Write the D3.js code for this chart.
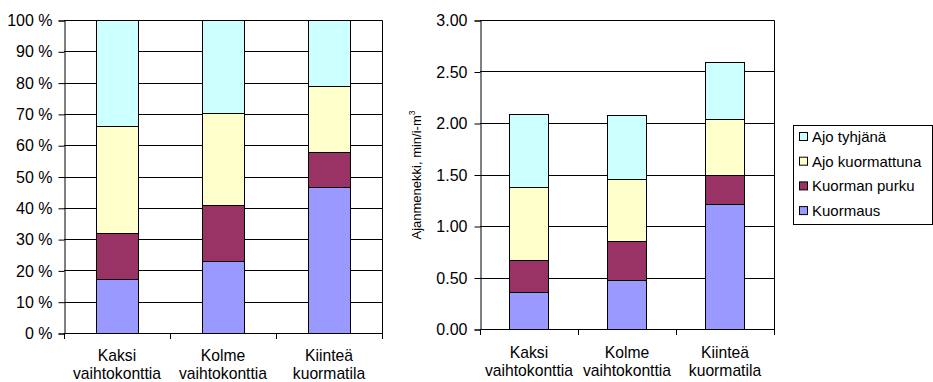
<!DOCTYPE html>
<html>
<head>
<meta charset="utf-8">
<script src="https://cdn.jsdelivr.net/npm/d3@7/dist/d3.min.js"></script>
<style>
  html, body { margin: 0; padding: 0; background: #fff; }
  svg { display: block; font-family: "Liberation Sans", Arial, sans-serif; }
</style>
</head>
<body>
<svg id="chart" width="933" height="382"></svg>
<script>
// Työvaiheiden ajanmenekki (min/i-m³) kuormatyypeittäin
const categories = [["Kaksi", "vaihtokonttia"], ["Kolme", "vaihtokonttia"], ["Kiinteä", "kuormatila"]];
const seriesNames = ["Kuormaus", "Kuorman purku", "Ajo kuormattuna", "Ajo tyhjänä"];
const seriesColors = ["#9999FF", "#993366", "#FFFFCC", "#CCFFFF"];
const kuormaus       = [0.36, 0.48, 1.21];
const kuormanPurku   = [0.31, 0.37, 0.29];
const ajoKuormattuna = [0.71, 0.61, 0.54];
const ajoTyhjana     = [0.71, 0.62, 0.55];
const percentTicks = [0, 0.1, 0.2, 0.3, 0.4, 0.5, 0.6, 0.7, 0.8, 0.9, 1.0];
const timeTicks = [0, 0.5, 1.0, 1.5, 2.0, 2.5, 3.0];
const yTitle = "Ajanmenekki, min/i-m";

const seriesValues = [kuormaus, kuormanPurku, ajoKuormattuna, ajoTyhjana];
const rows = categories.map((c, i) => {
  const r = { key: c.join(" ") };
  seriesNames.forEach((s, j) => r[s] = seriesValues[j][i]);
  return r;
});

const svg = d3.select("#chart");
const TICK_FONT = 16;
const CAT_FONT = 15.7;
const LEG_FONT = 15;

function drawPanel(opts) {
  const { x0, x1, y0, y1, stackData, yDomain, ticks, fmt, labelRight, catBase } = opts;
  const g = svg.append("g");

  const x = d3.scaleBand()
    .domain(rows.map(r => r.key))
    .range([x0, x1])
    .paddingInner(0.6)
    .paddingOuter(0.3);
  const y = d3.scaleLinear().domain(yDomain).range([y1, y0]);

  // vaakasuorat apuviivat
  g.append("g").selectAll("line")
    .data(ticks)
    .join("line")
    .attr("x1", x0).attr("x2", x1)
    .attr("y1", d => Math.round(y(d)) + 0.5)
    .attr("y2", d => Math.round(y(d)) + 0.5)
    .attr("stroke", "#000").attr("stroke-width", 1);

  // pinotut pylväät
  g.append("g").selectAll("g")
    .data(stackData)
    .join("g")
    .attr("fill", (d, i) => seriesColors[i])
    .selectAll("rect")
    .data(d => d)
    .join("rect")
    .attr("x", d => Math.round(x(d.data.key)) + 0.5)
    .attr("width", Math.round(x.bandwidth()))
    .attr("y", d => Math.round(y(d[1])) + 0.5)
    .attr("height", d => Math.round(y(d[0])) - Math.round(y(d[1])))
    .attr("stroke", "#000").attr("stroke-width", 1);

  // kuvaaja-alueen reunus (ylä ja oikea)
  g.append("path")
    .attr("d", `M${x0 + 0.5},${Math.round(y0) + 0.5}H${Math.round(x1) + 0.5}V${Math.round(y1) + 0.5}`)
    .attr("fill", "none").attr("stroke", "#000");

  // y-akseli
  const yAxis = d3.axisLeft(y).tickValues(ticks).tickFormat(fmt).tickSize(6).tickPadding(6);
  const ya = g.append("g").attr("transform", `translate(${x0 + 0.5},0.5)`).call(yAxis);
  ya.select(".domain").attr("stroke", "#000");
  ya.selectAll(".tick line").attr("stroke", "#000");
  ya.selectAll(".tick text")
    .attr("font-family", "Liberation Sans, Arial, sans-serif")
    .attr("font-size", TICK_FONT).attr("fill", "#000")
    .attr("x", labelRight - x0);

  // x-akseli: jakoviivat luokkien rajoilla
  const xa = g.append("g");
  xa.append("line")
    .attr("x1", x0).attr("x2", Math.round(x1) + 1)
    .attr("y1", Math.round(y1) + 0.5).attr("y2", Math.round(y1) + 0.5)
    .attr("stroke", "#000");
  const step = x.step();
  const bounds = d3.range(categories.length + 1).map(i => x0 + i * step);
  xa.selectAll("line.tk")
    .data(bounds)
    .join("line").attr("class", "tk")
    .attr("x1", d => Math.round(d) + 0.5).attr("x2", d => Math.round(d) + 0.5)
    .attr("y1", Math.round(y1)).attr("y2", Math.round(y1) + 6)
    .attr("stroke", "#000");

  // luokkien nimet kahdella rivillä
  const lab = g.append("g").selectAll("text")
    .data(categories)
    .join("text")
    .attr("x", (d, i) => x(rows[i].key) + x.bandwidth() / 2)
    .attr("y", catBase)
    .attr("text-anchor", "middle")
    .attr("font-size", CAT_FONT).attr("fill", "#000");
  lab.selectAll("tspan")
    .data(d => d)
    .join("tspan")
    .attr("x", function () { return d3.select(this.parentNode).attr("x"); })
    .attr("dy", (d, i) => i === 0 ? 0 : 18)
    .text(d => d);
  return g;
}

// vasen: prosenttiosuudet
const stackPct = d3.stack().keys(seriesNames).offset(d3.stackOffsetExpand)(rows);
drawPanel({
  x0: 64, x1: 382, y0: 20, y1: 333,
  stackData: stackPct, yDomain: [0, 1], ticks: percentTicks,
  fmt: d => Math.round(d * 100) + " %", labelRight: 52, catBase: 361
});

// oikea: ajanmenekki
const stackAbs = d3.stack().keys(seriesNames)(rows);
drawPanel({
  x0: 480, x1: 774, y0: 20, y1: 329,
  stackData: stackAbs, yDomain: [0, 3], ticks: timeTicks,
  fmt: d3.format(".2f"), labelRight: 467, catBase: 358
});

// y-akselin otsikko
const yt = svg.append("text")
  .attr("transform", "translate(421,175) rotate(-90)")
  .attr("text-anchor", "middle")
  .attr("font-size", 13).attr("fill", "#000");
yt.append("tspan").text(yTitle);
yt.append("tspan").attr("font-size", 8.5).attr("dy", -6).text("3");

// selite
const leg = svg.append("g");
leg.append("rect")
  .attr("x", 793.5).attr("y", 125.5).attr("width", 139).attr("height", 99)
  .attr("fill", "#fff").attr("stroke", "#000");
const legOrder = d3.range(seriesNames.length).reverse();
const li = leg.selectAll("g.item")
  .data(legOrder)
  .join("g").attr("class", "item")
  .attr("transform", (d, i) => `translate(799,${137 + i * 24.7})`);
li.append("rect")
  .attr("x", 0.5).attr("y", -4.5).attr("width", 8).attr("height", 8)
  .attr("fill", d => seriesColors[d]).attr("stroke", "#000");
li.append("text")
  .attr("x", 13).attr("y", 5)
  .attr("font-size", LEG_FONT).attr("fill", "#000")
  .text(d => seriesNames[d]);
</script>
</body>
</html>
